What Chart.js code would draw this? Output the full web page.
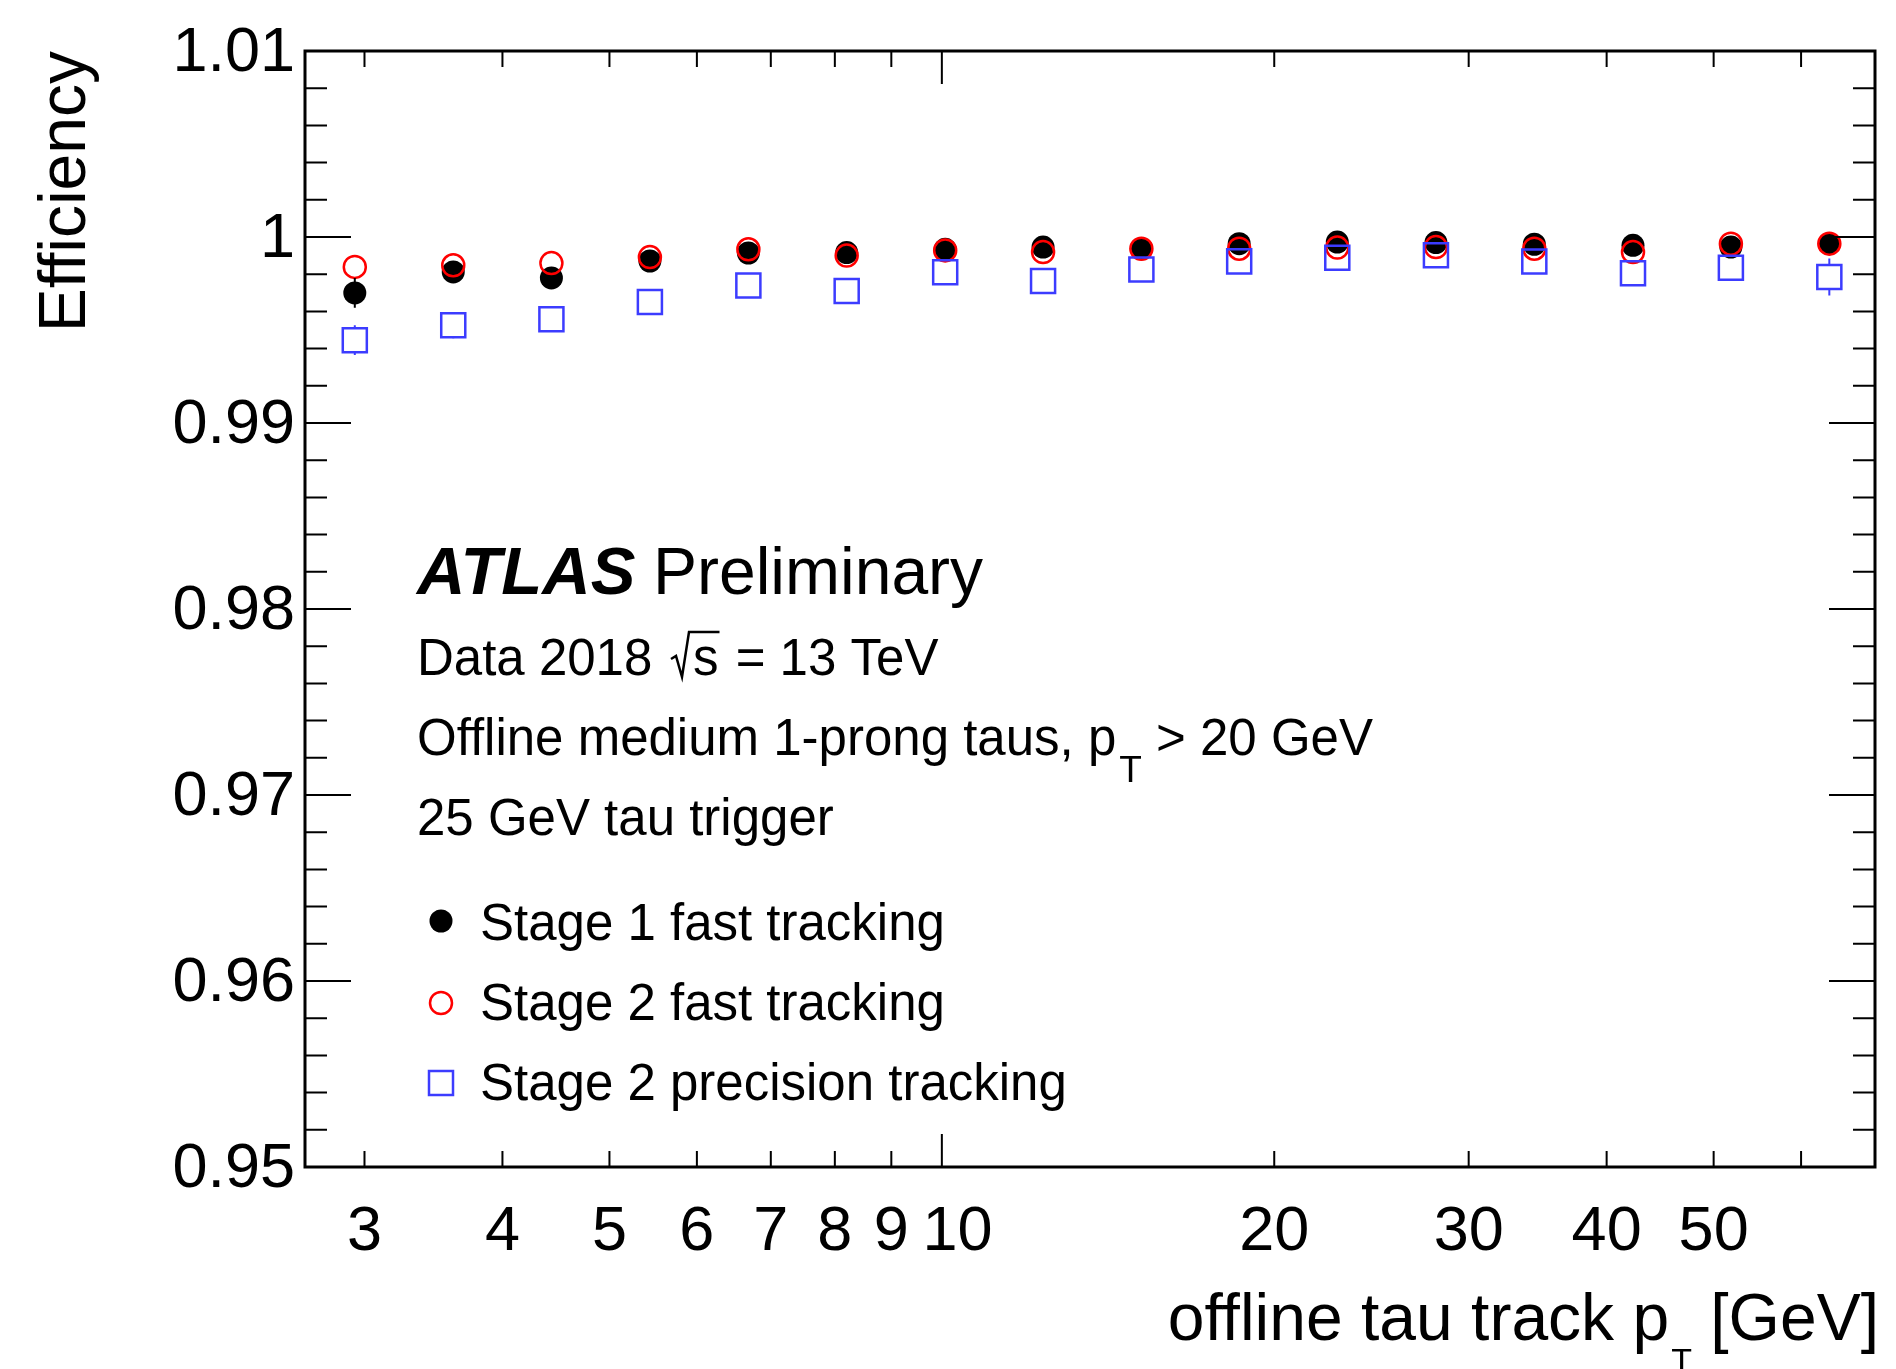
<!DOCTYPE html>
<html>
<head>
<meta charset="utf-8">
<title>Tau trigger tracking efficiency</title>
<script src="https://cdn.jsdelivr.net/npm/chart.js@4.4.1/dist/chart.umd.min.js"></script>
<style>
  html, body { margin: 0; padding: 0; background: #fff; }
  canvas { display: block; }
</style>
</head>
<body>
<canvas id="efficiency" width="1896" height="1369"></canvas>
<script>
// offline tau track pT, log-spaced bin centres [GeV]
const pt_bins = [2.94, 3.61, 4.43, 5.44, 6.68, 8.20, 10.07, 12.35, 15.16, 18.59, 22.81, 28.02, 34.40, 42.26, 51.83, 63.64];

const stage1_fast = [0.99699, 0.99812, 0.99780, 0.99871, 0.99914, 0.99916, 0.99934, 0.99946, 0.99937, 0.99964, 0.99973, 0.99970, 0.99961, 0.99955, 0.99946, 0.99964];
const stage1_fast_err = [0.0008, 0.0004, 0.0004, 0.0003, 0.0003, 0.0003, 0.0002, 0.0002, 0.0002, 0.0002, 0.0002, 0.0002, 0.0002, 0.0003, 0.0003, 0.0004];

const stage2_fast = [0.99839, 0.99848, 0.99860, 0.99892, 0.99934, 0.99900, 0.99928, 0.99919, 0.99937, 0.99937, 0.99943, 0.99946, 0.99937, 0.99919, 0.99964, 0.99964];
const stage2_fast_err = [0.0004, 0.0004, 0.0004, 0.0003, 0.0003, 0.0003, 0.0002, 0.0002, 0.0002, 0.0002, 0.0002, 0.0002, 0.0002, 0.0003, 0.0003, 0.0003];

const stage2_precision = [0.99445, 0.99525, 0.99558, 0.99651, 0.99739, 0.99710, 0.99810, 0.99763, 0.99825, 0.99869, 0.99889, 0.99902, 0.99868, 0.99805, 0.99835, 0.99785];
const stage2_precision_err = [0.0008, 0.0007, 0.0006, 0.0005, 0.0004, 0.0004, 0.0004, 0.0004, 0.0004, 0.0004, 0.0004, 0.0004, 0.0004, 0.0005, 0.0006, 0.0010];

const x_ticks = [3, 4, 5, 6, 7, 8, 9, 10, 20, 30, 40, 50, 60];
const x_tick_labels = ['3', '4', '5', '6', '7', '8', '9', '\u200210', '20', '30', '40', '50', ''];
const y_ticks = [0.95, 0.96, 0.97, 0.98, 0.99, 1.00, 1.01];
const y_tick_labels = ['0.95', '0.96', '0.97', '0.98', '0.99', '1', '1.01'];

const FONT = '"Liberation Sans", Arial, Helvetica, sans-serif';
const red = '#ff0000';
const blue = 'rgb(60, 60, 255)';

Chart.defaults.font.family = FONT;
Chart.defaults.color = '#000';

const to_points = (ys) => pt_bins.map((x, i) => ({x: x, y: ys[i]}));

// vertical error bars, only the part sticking out of the marker
const error_bars = {
  id: 'error_bars',
  afterDatasetsDraw(chart) {
    const ctx = chart.ctx;
    const y = chart.scales.y;
    ctx.save();
    chart.data.datasets.forEach((ds, di) => {
      const meta = chart.getDatasetMeta(di);
      ctx.strokeStyle = ds.borderColor;
      ctx.lineWidth = 2;
      meta.data.forEach((pt, j) => {
        const err = ds.errors[j];
        const half = ds.markerHalf;
        const top = y.getPixelForValue(ds.data[j].y + err);
        const bot = y.getPixelForValue(ds.data[j].y - err);
        ctx.beginPath();
        if (pt.y - top > half) { ctx.moveTo(pt.x, pt.y - half); ctx.lineTo(pt.x, top); }
        if (bot - pt.y > half) { ctx.moveTo(pt.x, pt.y + half); ctx.lineTo(pt.x, bot); }
        ctx.stroke();
      });
    });
    ctx.restore();
  }
};

// ROOT style frame with inward ticks on all four sides
const frame = {
  id: 'frame',
  afterDraw(chart) {
    const {ctx, chartArea: a, scales: {x, y}} = chart;
    ctx.save();
    ctx.strokeStyle = '#000';
    ctx.lineWidth = 2;
    ctx.beginPath();
    for (let k = 0; k <= 30; k++) {
      const py = y.getPixelForValue(0.95 + k * 0.002);
      const len = k % 5 === 0 ? 46 : 22;
      ctx.moveTo(a.left, py); ctx.lineTo(a.left + len, py);
      ctx.moveTo(a.right, py); ctx.lineTo(a.right - len, py);
    }
    x_ticks.forEach(v => {
      const px = x.getPixelForValue(v);
      const len = v === 10 ? 33 : 16;
      ctx.moveTo(px, a.bottom); ctx.lineTo(px, a.bottom - len);
      ctx.moveTo(px, a.top); ctx.lineTo(px, a.top + len);
    });
    ctx.stroke();
    ctx.lineWidth = 3;
    ctx.strokeRect(a.left, a.top, a.right - a.left, a.bottom - a.top);
    ctx.restore();
  }
};

// axis titles, ATLAS label and legend
const labels = {
  id: 'labels',
  afterDraw(chart) {
    const ctx = chart.ctx;
    ctx.save();
    ctx.fillStyle = '#000';
    ctx.textBaseline = 'alphabetic';

    // y title
    ctx.save();
    ctx.translate(85, 51);
    ctx.rotate(-Math.PI / 2);
    ctx.textAlign = 'right';
    ctx.font = '66px ' + FONT;
    ctx.fillText('Efficiency', 0, 0);
    ctx.restore();

    // x title with subscript
    ctx.textAlign = 'left';
    const main = 'offline tau track p', tail = ' [GeV]';
    ctx.font = '66px ' + FONT;
    const wMain = ctx.measureText(main).width, wTail = ctx.measureText(tail).width;
    ctx.font = '34px ' + FONT;
    const wSub = ctx.measureText('T').width;
    let x0 = 1879 - (wMain + 2 + wSub + wTail);
    ctx.font = '66px ' + FONT;
    ctx.fillText(main, x0, 1340);
    ctx.font = '34px ' + FONT;
    ctx.fillText('T', x0 + wMain + 2, 1372);
    ctx.font = '66px ' + FONT;
    ctx.fillText(tail, x0 + wMain + 2 + wSub, 1340);

    // ATLAS Preliminary
    ctx.font = 'italic bold 67px ' + FONT;
    ctx.fillText('ATLAS', 417, 594);
    ctx.font = '66px ' + FONT;
    ctx.fillText('Preliminary', 653, 594);

    // Data 2018 sqrt(s) = 13 TeV
    ctx.font = '51px ' + FONT;
    ctx.fillText('Data 2018', 417, 675);
    const sx = 693;
    ctx.fillText('s', sx, 675);
    const sEnd = sx + ctx.measureText('s').width;
    ctx.fillText(' = 13 TeV', sEnd + 3, 675);
    ctx.lineWidth = 2.5;
    ctx.lineJoin = 'miter';
    ctx.beginPath();
    ctx.moveTo(671, 659);
    ctx.lineTo(676, 656);
    ctx.lineTo(682, 677);
    ctx.lineTo(689, 632);
    ctx.lineTo(sEnd + 1, 632);
    ctx.stroke();

    // cut description with pT subscript
    const c1 = 'Offline medium 1-prong taus, p';
    ctx.fillText(c1, 417, 755);
    const c1w = ctx.measureText(c1).width;
    ctx.font = '37px ' + FONT;
    ctx.fillText('T', 417 + c1w + 3, 782);
    const tw = ctx.measureText('T').width;
    ctx.font = '51px ' + FONT;
    ctx.fillText(' > 20 GeV', 417 + c1w + 3 + tw, 755);
    ctx.fillText('25 GeV tau trigger', 417, 835);

    // legend
    const rows = [
      {label: 'Stage 1 fast tracking', y: 921, base: 940},
      {label: 'Stage 2 fast tracking', y: 1003, base: 1020},
      {label: 'Stage 2 precision tracking', y: 1083, base: 1100}
    ];
    ctx.beginPath();
    ctx.arc(441, rows[0].y, 11.5, 0, 2 * Math.PI);
    ctx.fill();
    ctx.strokeStyle = red;
    ctx.lineWidth = 2.5;
    ctx.beginPath();
    ctx.arc(441, rows[1].y, 11, 0, 2 * Math.PI);
    ctx.stroke();
    ctx.strokeStyle = blue;
    ctx.strokeRect(441 - 12, rows[2].y - 12, 24, 24);
    rows.forEach(r => ctx.fillText(r.label, 480, r.base));

    ctx.restore();
  }
};

const ctx = document.getElementById('efficiency').getContext('2d');

const chart = new Chart(ctx, {
  type: 'scatter',
  data: {
    datasets: [
      {
        label: 'Stage 1 fast tracking',
        data: to_points(stage1_fast),
        errors: stage1_fast_err,
        markerHalf: 11,
        order: 3,
        pointStyle: 'circle',
        pointRadius: 11.5,
        pointBackgroundColor: '#000',
        pointBorderColor: '#000',
        pointBorderWidth: 0,
        borderColor: '#000',
        showLine: false
      },
      {
        label: 'Stage 2 fast tracking',
        data: to_points(stage2_fast),
        errors: stage2_fast_err,
        markerHalf: 12,
        order: 2,
        pointStyle: 'circle',
        pointRadius: 11,
        pointBackgroundColor: 'rgba(0,0,0,0)',
        pointBorderColor: red,
        pointBorderWidth: 2.5,
        borderColor: red,
        showLine: false
      },
      {
        label: 'Stage 2 precision tracking',
        data: to_points(stage2_precision),
        errors: stage2_precision_err,
        markerHalf: 12,
        order: 1,
        pointStyle: 'rect',
        pointRadius: 17,
        pointBackgroundColor: 'rgba(0,0,0,0)',
        pointBorderColor: blue,
        pointBorderWidth: 2.5,
        borderColor: blue,
        showLine: false
      }
    ]
  },
  options: {
    responsive: false,
    animation: false,
    devicePixelRatio: 1,
    events: [],
    layout: {
      padding: {top: 51, right: 21, left: 0, bottom: 0}
    },
    plugins: {
      legend: {display: false},
      tooltip: {enabled: false}
    },
    scales: {
      x: {
        type: 'logarithmic',
        min: 2.65,
        max: 70,
        grid: {display: false},
        border: {display: false},
        afterBuildTicks: (scale) => {
          scale.ticks = x_ticks.map(v => ({value: v, major: false}));
        },
        afterFit: (scale) => { scale.height = 202; },
        ticks: {
          autoSkip: false,
          maxRotation: 0,
          minRotation: 0,
          padding: 20,
          font: {size: 63},
          callback: (value, index) => x_tick_labels[index]
        }
      },
      y: {
        min: 0.95,
        max: 1.01,
        grid: {display: false},
        border: {display: false},
        afterBuildTicks: (scale) => {
          scale.ticks = y_ticks.map(v => ({value: v}));
        },
        afterFit: (scale) => { scale.width = 305; },
        ticks: {
          padding: 2,
          labelOffset: 3,
          font: {size: 63},
          callback: (value, index) => y_tick_labels[index]
        }
      }
    }
  },
  plugins: [error_bars, frame, labels]
});
</script>
</body>
</html>
